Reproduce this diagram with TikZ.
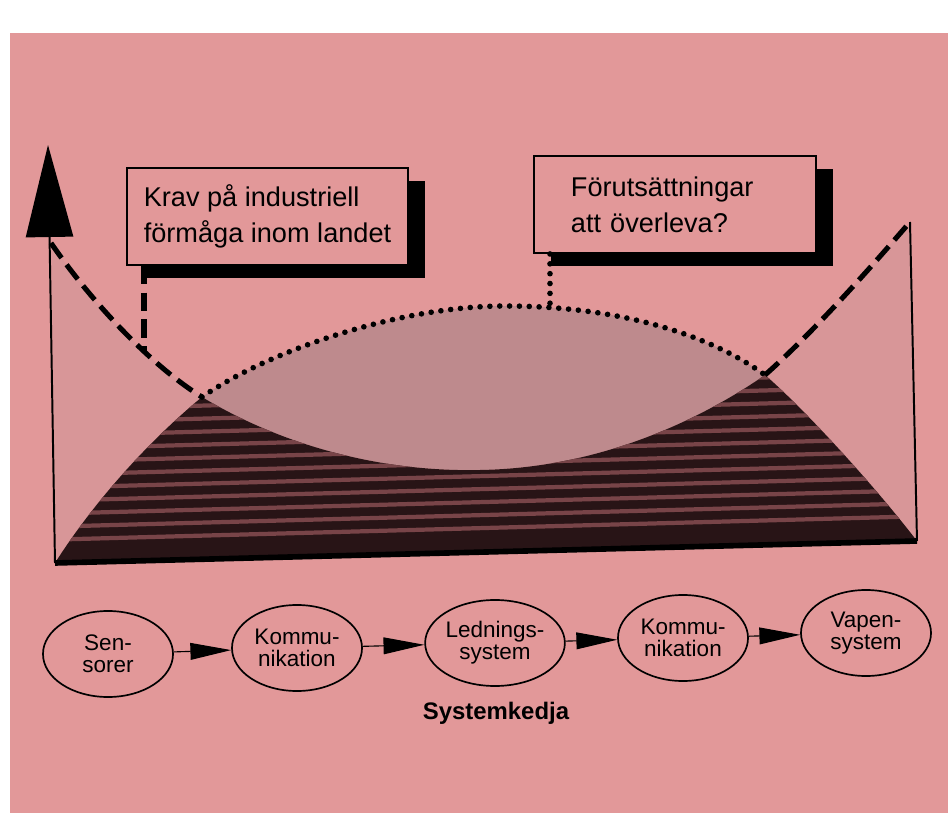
\documentclass[tikz,border=0pt]{standalone}
\usepackage{fontspec}
\setmainfont{Liberation Sans}
\usetikzlibrary{positioning}
\usetikzlibrary{arrows.meta}
\usetikzlibrary{shapes.geometric}
\usetikzlibrary{shadows}
\definecolor{paper}{RGB}{226,152,153}
\definecolor{sidetone}{RGB}{216,150,152}
\definecolor{midtone}{RGB}{190,138,141}
\definecolor{darktone}{RGB}{40,20,22}
\definecolor{stripetone}{RGB}{120,68,72}
\tikzset{
callout/.style={ % boxes with a black drop shadow
draw, line width=1.4pt,
fill=paper,
anchor=north west,
align=left,
minimum width=7.025cm,
minimum height=2.425cm,
font=\fontsize{19.3}{25.5}\selectfont,
drop shadow={shadow xshift=0.42cm, shadow yshift=-0.32cm, fill=black, opacity=1}},
link/.style={ % links of the system chain
ellipse, draw, line width=1.2pt,
minimum width=3.25cm, minimum height=2.15cm,
inner sep=0pt, align=center,
font=\fontsize{16}{15.5}\selectfont},
chainarrow/.style={draw, line width=0.8pt, -{Triangle[length=1.02cm, width=0.42cm]}},
dashcurve/.style={line width=3.6pt, dash pattern=on 13pt off 6pt},
dotcurve/.style={line width=4pt, line cap=round, dash pattern=on 0pt off 7pt},
stripe/.style={stripetone, line width=3pt}}

\begin{document}
\begin{tikzpicture}[x=0.025cm, y=-0.025cm]
\useasboundingbox (0,0) rectangle (948,827);
\fill[white] (0,0) rectangle (948,827);
\fill[paper] (10,33) rectangle (948,813);

% curve points
\coordinate (tl) at (51,243);
\coordinate (tr) at (910,222);
\coordinate (bl) at (55,563);
\coordinate (br) at (917,541);
\coordinate (lo) at (202,397);
\coordinate (ro) at (765,375);
\coordinate (top) at (505,306);
\coordinate (low) at (480,470);
\coordinate (tip) at (48,145);

% side regions
\fill[sidetone] (tl) .. controls (90,300) and (150,365) .. (lo) .. controls (150,440) and (95,500) .. (bl) -- cycle;
\fill[sidetone] (tr) .. controls (860,280) and (810,335) .. (ro) .. controls (800,405) and (870,480) .. (br) -- cycle;
% middle region
\fill[midtone] (lo) .. controls (270,350) and (400,306) .. (top) .. controls (620,306) and (710,335) .. (ro)
  .. controls (700,420) and (600,468) .. (low) .. controls (390,472) and (290,450) .. (lo) -- cycle;
% dark region
\begin{scope}
\clip (bl) .. controls (95,500) and (150,440) .. (lo) .. controls (290,450) and (390,472) .. (low)
  .. controls (600,468) and (700,420) .. (ro) .. controls (800,405) and (870,480) .. (br) -- cycle;
\fill[darktone] (40,360) rectangle (930,580);
\foreach \y in {384,397,...,550}
  \draw[stripe] (40,\y) -- (930,\y-24);
\end{scope}

% curves
\draw[dashcurve] (tl) .. controls (90,300) and (150,365) .. (lo);
\draw[dashcurve] (ro) .. controls (810,335) and (860,280) .. (tr);
\draw[dotcurve] (lo) .. controls (270,350) and (400,306) .. (top) .. controls (620,306) and (710,335) .. (ro);

% axes
\draw[line width=1.4pt, -{Triangle[length=2.3cm, width=1.18cm]}] (bl) -- (tip);
\draw[line width=1.4pt] (br) -- (tr);
\draw[line width=4pt] (bl) -- (br);

% boxes
\coordinate (kravfoot) at (144,352);
\coordinate (forutfoot) at (550,308);
\node[callout] (krav) at (126,167) {Krav på industriell\\förmåga inom landet};
\node[callout, text width=5.2cm, inner xsep=0.925cm] (forut) at (533,155) {Förutsättningar\\att överleva?};
\draw[dashcurve] (kravfoot |- krav.south) -- (kravfoot);
\draw[dotcurve] (forutfoot |- forut.south) -- (forutfoot);

% system chain
\node[link] (sen) at (108,654) {Sen-\\sorer};
\node[link] (kom1) at (297,648) {Kommu-\\nikation};
\node[link] (led) at (495,643) {Lednings-\\system};
\node[link] (kom2) at (683,638) {Kommu-\\nikation};
\node[link] (vap) at (866,633) {Vapen-\\system};
\draw[chainarrow] (sen) -- (kom1);
\draw[chainarrow] (kom1) -- (led);
\draw[chainarrow] (led) -- (kom2);
\draw[chainarrow] (kom2) -- (vap);
\node[font=\fontsize{17}{20}\selectfont\bfseries] (kedja) at (496,713) {Systemkedja};
\end{tikzpicture}
\end{document}
